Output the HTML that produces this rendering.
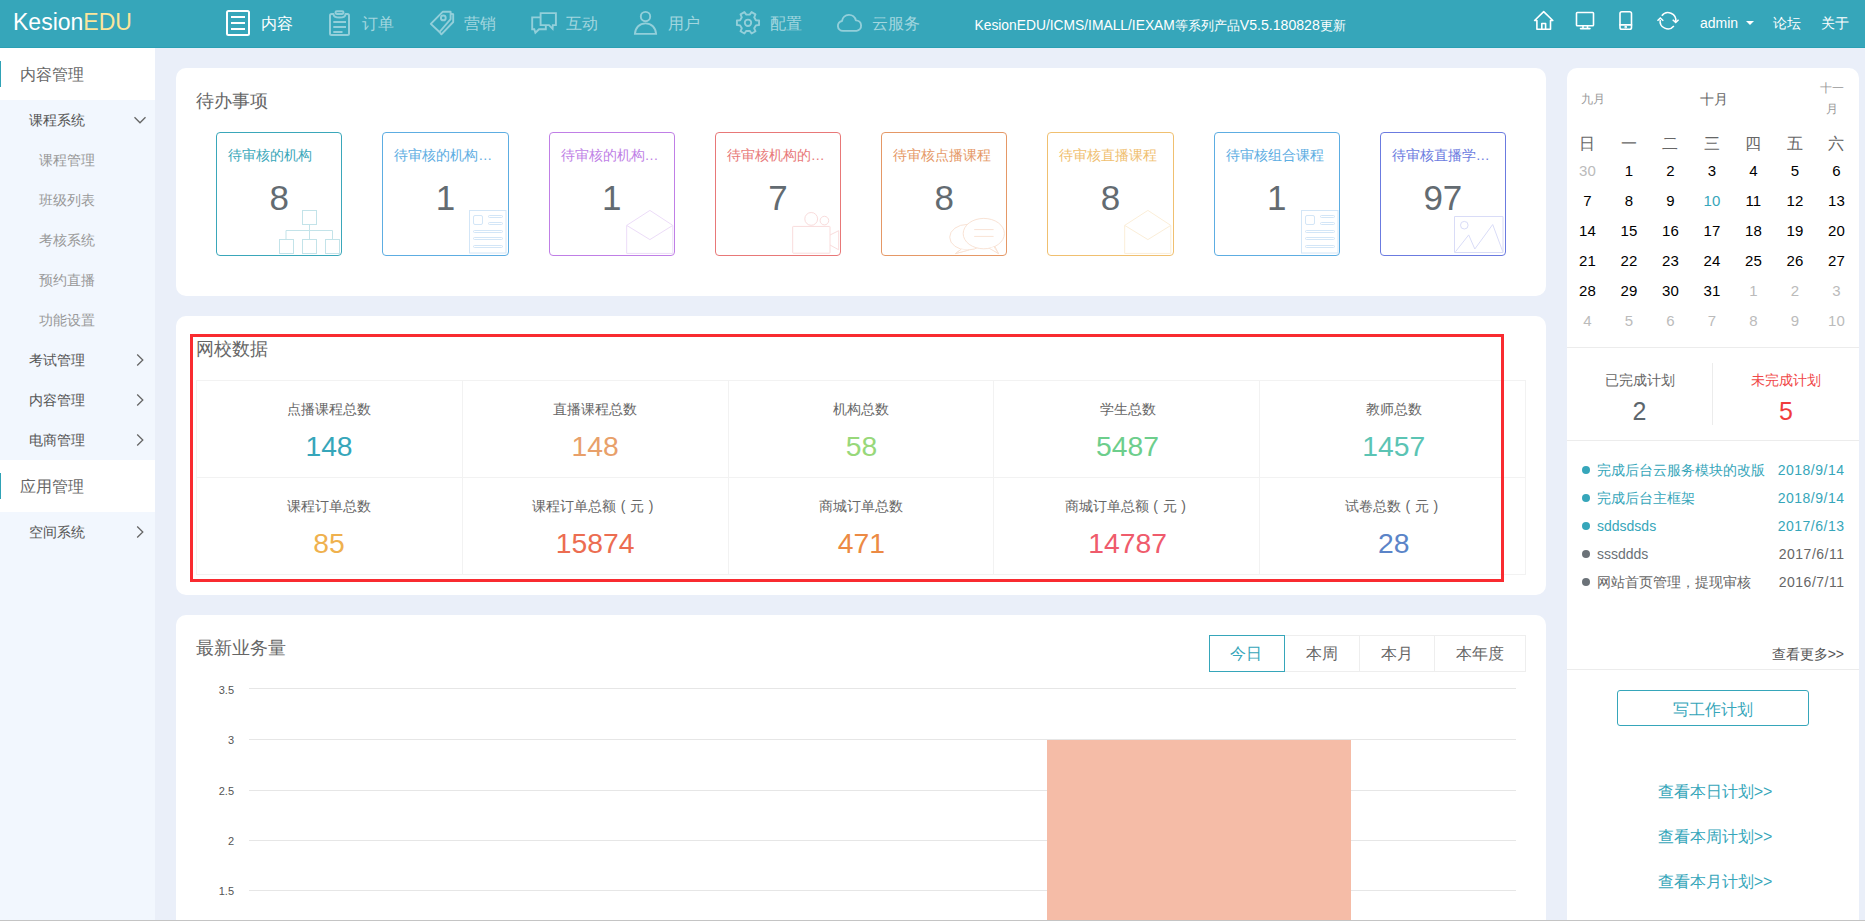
<!DOCTYPE html>
<html lang="zh">
<head>
<meta charset="utf-8">
<title>KesionEDU</title>
<style>
*{margin:0;padding:0;box-sizing:border-box;}
html,body{width:1865px;height:922px;overflow:hidden;}
body{font-family:"Liberation Sans",sans-serif;background:#eaeff9;position:relative;color:#666;font-size:14px;}
.abs{position:absolute;}
#hdr{position:absolute;left:0;top:0;width:1865px;height:48px;background:#36a6ba;border-bottom:1px solid #2ba0b4;}
#logo{position:absolute;left:13px;top:9.200px;font-size:23px;line-height:26px;color:#fff;white-space:nowrap;}
#logo b{font-weight:normal;color:#fbe59b;}
.nav{position:absolute;top:0;height:48px;color:#93cfda;font-size:16px;line-height:48px;white-space:nowrap;}
.nav.on{color:#fff;}
.nav span{color:#a2d6df;}
.nav.on span{color:#fff;}
.nav svg{position:absolute;top:0;left:0;}
.la{font-size:14px;letter-spacing:0.1px;}
.hr{position:absolute;top:0;height:48px;line-height:46px;color:#fff;font-size:14px;white-space:nowrap;}
#side{position:absolute;left:0;top:48px;width:155px;height:874px;background:#f2f7fe;}
.sh{position:absolute;left:0;width:155px;height:52px;background:#fff;font-size:16px;line-height:54px;padding-left:19.500px;color:#666;}
.sh:before{content:"";position:absolute;left:0;top:13px;width:1px;height:26px;background:#2fa2b6;}
.s1{position:absolute;left:29px;height:40px;line-height:40px;font-size:14px;color:#555;white-space:nowrap;}
.s2{position:absolute;left:39px;height:40px;line-height:40px;font-size:14px;color:#999;white-space:nowrap;}
.chev{position:absolute;left:133px;width:14px;height:14px;}
.card{position:absolute;background:#fff;border-radius:10px;}
.tc{position:absolute;top:64px;width:126.25px;height:124px;border:1px solid;border-radius:4px;overflow:hidden;background:#fff;}
.tt{position:absolute;left:11px;top:12px;font-size:14px;line-height:20px;white-space:nowrap;}
.tn{position:absolute;left:0;width:100%;top:45.400px;text-align:center;font-size:35px;line-height:40px;color:#636b71;}
.ic{position:absolute;left:-1px;top:-1px;}
.dc{position:absolute;width:266px;height:97px;text-align:center;}
.dl{position:absolute;left:0;width:100%;top:19px;font-size:14px;line-height:20px;color:#666;white-space:nowrap;}
.dn{position:absolute;left:0;width:100%;top:48px;font-size:28.300px;line-height:36px;white-space:nowrap;}
.cal{width:40px;height:24px;line-height:24px;text-align:center;}
.pr{display:inline-block;width:14px;text-align:center;font-style:normal;}
.ttl{position:absolute;font-size:18px;line-height:24px;color:#666;white-space:nowrap;}
</style>
</head>
<body>
<div id="hdr">
<div id="logo">Kesion<b>EDU</b></div>

<div class="nav on" style="left:226px;"><svg width="24" height="48" viewBox="0 0 24 48"><rect x="1" y="11" width="22" height="24" rx="1.5" fill="none" stroke="#fff" stroke-width="2"/><path d="M5 17H19M5 23H19M5 29H19" stroke="#fff" stroke-width="2"/></svg><span style="margin-left:35px;">内容</span></div>
<div class="nav" style="left:328px;"><svg width="24" height="48" viewBox="0 0 24 48"><g fill="none" stroke="#93cfda" stroke-width="2" stroke-linejoin="round"><path d="M5.5 14H3.5a1.5 1.5 0 0 0-1.5 1.5V33.4a1.5 1.5 0 0 0 1.5 1.5H19.5a1.5 1.5 0 0 0 1.5-1.5V15.5a1.5 1.5 0 0 0-1.5-1.5H17.5C17.5 16.5 15.5 17.6 11.5 17.6S5.5 16.5 5.5 14Z"/><rect x="7.5" y="11.3" width="8" height="2.6" rx="1.3"/><path d="M5.3 21.900H18M5.3 27H18M5.3 31.900H14.5"/></g></svg><span style="margin-left:34px;">订单</span></div>
<div class="nav" style="left:429px;"><svg width="26" height="48" viewBox="0 0 26 48"><g fill="none" stroke="#93cfda" stroke-width="1.9" stroke-linejoin="round"><path d="M13.9 11.7L21.6 11.7L21.6 19.2L10.5 32L1.8 23.9Z"/><path d="M21.6 13.8L24.2 14.2L24.2 22L12.4 34.3L10.5 32"/><circle cx="14.3" cy="17.9" r="2.4"/></g></svg><span style="margin-left:35px;">营销</span></div>
<div class="nav" style="left:530px;"><svg width="28" height="48" viewBox="0 0 28 48"><g fill="none" stroke="#93cfda" stroke-width="1.9" stroke-linejoin="miter"><path d="M10.6 17.4H2.2V29.3H4.3L5.4 32.8L9 29.3H15.8V25.1"/><path d="M10.6 13.1H25.9V25.1H22.8L22.6 28.8L19 25.1H10.6Z"/></g></svg><span style="margin-left:36px;">互动</span></div>
<div class="nav" style="left:633px;"><svg width="26" height="48" viewBox="0 0 26 48"><g fill="none" stroke="#93cfda" stroke-width="1.9"><circle cx="12.5" cy="16.6" r="4.7"/><path d="M1.9 33.9C2.3 27.5 6.6 23.4 12.5 23.4S22.7 27.5 23.1 33.9Z" stroke-linejoin="miter"/></g></svg><span style="margin-left:35px;">用户</span></div>
<div class="nav" style="left:735px;"><svg width="26" height="48" viewBox="0 0 26 48"><g fill="none" stroke="#93cfda" stroke-width="1.9" stroke-linejoin="round"><circle cx="13" cy="22.8" r="3.2"/><path d="M20.88 20.19L24.07 20.56L24.07 25.04L20.88 25.41L19.20 28.32L20.48 31.27L16.59 33.51L14.68 30.93L11.32 30.93L9.41 33.51L5.52 31.27L6.80 28.32L5.12 25.41L1.93 25.04L1.93 20.56L5.12 20.19L6.80 17.28L5.52 14.33L9.41 12.09L11.32 14.67L14.68 14.67L16.59 12.09L20.48 14.33L19.20 17.28Z"/></g></svg><span style="margin-left:35px;">配置</span></div>
<div class="nav" style="left:836px;"><svg width="28" height="48" viewBox="0 0 28 48"><path d="M6.9 30.9A5 5 0 0 1 6.06 20.97A7 7 0 0 1 19.83 20.36A5.3 5.3 0 0 1 20.6 30.9Z" fill="none" stroke="#93cfda" stroke-width="1.9" stroke-linejoin="round"/></svg><span style="margin-left:36px;">云服务</span></div>
<div class="hr" id="ver" style="left:974.500px;font-size:13px;line-height:50px;"><span style="font-size:13.820px;">KesionEDU/ICMS/IMALL/IEXAM</span>等系列产品<span style="font-size:14.100px;">V5.5.180828</span>更新</div>
<svg class="abs" style="left:1530px;top:0;" width="160" height="48" viewBox="1530 0 160 48"><g fill="none" stroke="#fff" stroke-width="1.600" stroke-linejoin="round" stroke-linecap="round">
<path d="M1534.600 20.500L1543.700 11.600L1552.800 20.500H1550.500V29.200H1536.900V20.500Z"/><path d="M1541.800 29.200V23.500H1545.600V29.200"/>
<rect x="1576.500" y="12.500" width="17" height="13.200" rx="0.800"/><path d="M1580.500 28.600H1590M1583 26V28.500M1587.500 26V28.500"/>
<rect x="1620" y="11.800" width="11.500" height="17.500" rx="1.800"/><path d="M1620 24.900H1631.500"/><circle cx="1625.700" cy="27.100" r="0.500"/>
<path d="M1661.800 15.700A7.800 7.800 0 0 1 1675.700 21.600M1660.200 19.800A7.800 7.800 0 0 0 1673.900 26" stroke-width="1.500" stroke-linecap="butt"/><path d="M1672.700 19.800L1675.700 22.400L1678.600 19.800M1657.500 20.700L1660.300 18L1663.300 20.700" stroke-width="1.500" stroke-linejoin="miter" stroke-linecap="butt"/>
</g></svg>
<div class="hr" style="left:1700px;">admin</div>
<div class="abs" style="left:1745.500px;top:21.300px;width:0;height:0;border-left:4px solid transparent;border-right:4px solid transparent;border-top:4.300px solid #fff;"></div>
<div class="hr" style="left:1773px;">论坛</div>
<div class="hr" style="left:1821px;">关于</div>

</div>
<div id="side">

<div class="sh" style="top:0;">内容管理</div>
<div class="s1" style="top:52px;">课程系统</div>
<svg class="chev" style="top:65px;" viewBox="0 0 14 14"><path d="M1.5 4.200 L7 9.800 L12.500 4.200" fill="none" stroke="#666" stroke-width="1.3"/></svg>
<div class="s2" style="top:92px;">课程管理</div>
<div class="s2" style="top:132px;">班级列表</div>
<div class="s2" style="top:172px;">考核系统</div>
<div class="s2" style="top:212px;">预约直播</div>
<div class="s2" style="top:252px;">功能设置</div>
<div class="s1" style="top:292px;">考试管理</div>
<svg class="chev" style="top:305px;" viewBox="0 0 14 14"><path d="M4.2 1.5 L9.8 7 L4.2 12.5" fill="none" stroke="#666" stroke-width="1.3"/></svg>
<div class="s1" style="top:332px;">内容管理</div>
<svg class="chev" style="top:345px;" viewBox="0 0 14 14"><path d="M4.2 1.5 L9.8 7 L4.2 12.5" fill="none" stroke="#666" stroke-width="1.3"/></svg>
<div class="s1" style="top:372px;">电商管理</div>
<svg class="chev" style="top:385px;" viewBox="0 0 14 14"><path d="M4.2 1.5 L9.8 7 L4.2 12.5" fill="none" stroke="#666" stroke-width="1.3"/></svg>
<div class="sh" style="top:412px;">应用管理</div>
<div class="s1" style="top:464px;">空间系统</div>
<svg class="chev" style="top:477px;" viewBox="0 0 14 14"><path d="M4.2 1.5 L9.8 7 L4.2 12.5" fill="none" stroke="#666" stroke-width="1.3"/></svg>

</div>
<div class="card" id="c1" style="left:176px;top:68px;width:1370px;height:228px;">
<div class="ttl" style="left:20px;top:21px;">待办事项</div>
<div class="tc" style="left:40.00px;border-color:#3aa7ba;"><div class="tt" style="color:#3aa7ba;">待审核的机构</div><div class="tn">8</div><svg class="ic" width="126" height="124" viewBox="0 0 126 124"><g fill="none" stroke="#c3e3e9" stroke-width="1"><rect x="86.5" y="78.500" width="14" height="14"/><rect x="63.500" y="107.500" width="14" height="14"/><rect x="86.500" y="107.500" width="14" height="14"/><rect x="109.500" y="107.500" width="14" height="14"/><path d="M93.500 92.500V107.500M70 107.500V98.500H116.500V107.500"/></g></svg></div>
<div class="tc" style="left:206.25px;border-color:#5dade2;"><div class="tt" style="color:#5dade2;">待审核的机构…</div><div class="tn">1</div><svg class="ic" width="126" height="124" viewBox="0 0 126 124"><g fill="none" stroke="#d3e6f7" stroke-width="1"><rect x="87.500" y="78.500" width="36.500" height="42.500"/><rect x="91.500" y="83.500" width="9" height="9" rx="1.500"/><rect x="106.500" y="83.500" width="14" height="2" rx="1"/><rect x="106.500" y="90.500" width="14" height="2" rx="1"/><rect x="91.500" y="98.500" width="29" height="2" rx="1"/><rect x="91.500" y="105.500" width="29" height="2" rx="1"/><rect x="91.500" y="113.500" width="29" height="2" rx="1"/></g></svg></div>
<div class="tc" style="left:372.50px;border-color:#c07fe6;"><div class="tt" style="color:#c07fe6;">待审核的机构…</div><div class="tn">1</div><svg class="ic" width="126" height="124" viewBox="0 0 126 124"><g fill="none" stroke="#ecdcf8" stroke-width="1" stroke-linejoin="round"><path d="M77.700 93.400L100.900 78.400L123.800 93.400V121.400H77.700Z"/><path d="M77.700 93.400L100.900 107.600L123.800 93.400"/></g></svg></div>
<div class="tc" style="left:538.75px;border-color:#e87878;"><div class="tt" style="color:#e87878;">待审核机构的…</div><div class="tn">7</div><svg class="ic" width="126" height="124" viewBox="0 0 126 124"><g fill="none" stroke="#f9dcdc" stroke-width="1" stroke-linejoin="round"><rect x="77.700" y="94.400" width="37.300" height="26.800" rx="0.500"/><circle cx="96.200" cy="86.900" r="6.400"/><circle cx="109.400" cy="88.600" r="4.300"/><path d="M115 103L123.700 98.700V117.800L115 113"/></g></svg></div>
<div class="tc" style="left:705.00px;border-color:#e59866;"><div class="tt" style="color:#e59866;">待审核点播课程</div><div class="tn">8</div><svg class="ic" width="126" height="124" viewBox="0 0 126 124"><g fill="none" stroke="#f9e3d5" stroke-width="1" stroke-linejoin="round"><path d="M80 117.300L74.500 121.500L86 118.500" /><ellipse cx="86.500" cy="105.200" rx="17.800" ry="12.800" fill="#fff"/><path d="M80.300 117.200L74.500 121.600L88 117.950" fill="#fff"/><path d="M109 115.500L117.500 121.600L113.500 113.600" fill="#fff"/><ellipse cx="102.800" cy="101.600" rx="20.600" ry="15.200" fill="#fff"/><path d="M108.600 116.200L117.500 121.600L112.600 115" fill="#fff" stroke="none"/><path d="M108.200 116.300L117.500 121.600L113.100 114.800"/><path d="M93.200 97.600H112.600M93.200 104.400H112.600"/></g></svg></div>
<div class="tc" style="left:871.25px;border-color:#f0c070;"><div class="tt" style="color:#f0c070;">待审核直播课程</div><div class="tn">8</div><svg class="ic" width="126" height="124" viewBox="0 0 126 124"><g fill="none" stroke="#fbeed8" stroke-width="1" stroke-linejoin="round"><path d="M77.700 93.400L100.900 78.400L123.800 93.400V121.400H77.700Z"/><path d="M77.700 93.400L100.900 107.600L123.800 93.400"/></g></svg></div>
<div class="tc" style="left:1037.50px;border-color:#5dade2;"><div class="tt" style="color:#5dade2;">待审核组合课程</div><div class="tn">1</div><svg class="ic" width="126" height="124" viewBox="0 0 126 124"><g fill="none" stroke="#d3e6f7" stroke-width="1"><rect x="87.500" y="78.500" width="36.500" height="42.500"/><rect x="91.500" y="83.500" width="9" height="9" rx="1.500"/><rect x="106.500" y="83.500" width="14" height="2" rx="1"/><rect x="106.500" y="90.500" width="14" height="2" rx="1"/><rect x="91.500" y="98.500" width="29" height="2" rx="1"/><rect x="91.500" y="105.500" width="29" height="2" rx="1"/><rect x="91.500" y="113.500" width="29" height="2" rx="1"/></g></svg></div>
<div class="tc" style="left:1203.75px;border-color:#6b7be0;"><div class="tt" style="color:#6b7be0;">待审核直播学…</div><div class="tn">97</div><svg class="ic" width="126" height="124" viewBox="0 0 126 124"><g fill="none" stroke="#d9dcf7" stroke-width="1" stroke-linejoin="round"><rect x="74.500" y="84.500" width="48.500" height="36"/><circle cx="84.300" cy="93.200" r="3.800"/><path d="M75.500 119.700L88.700 102.900L94.800 117L112.700 92.500L122.800 119.700"/></g></svg></div>

</div>
<div class="card" id="c2" style="left:176px;top:316px;width:1370px;height:279px;">
<div class="ttl" style="left:20px;top:21px;">网校数据</div>
<div class="abs" style="left:20px;top:64px;width:1330px;height:195px;border:1px solid #f2f2f2;"></div>
<div class="abs" style="left:20px;top:161px;width:1330px;height:1px;background:#f2f2f2;"></div>
<div class="abs" style="left:286px;top:64px;width:1px;height:195px;background:#f2f2f2;"></div>
<div class="abs" style="left:552px;top:64px;width:1px;height:195px;background:#f2f2f2;"></div>
<div class="abs" style="left:817px;top:64px;width:1px;height:195px;background:#f2f2f2;"></div>
<div class="abs" style="left:1083px;top:64px;width:1px;height:195px;background:#f2f2f2;"></div>
<div class="dc" style="left:20.0px;top:64px;"><div class="dl">点播课程总数</div><div class="dn" style="color:#36a6ba;">148</div></div>
<div class="dc" style="left:286.2px;top:64px;"><div class="dl">直播课程总数</div><div class="dn" style="color:#e8a06a;">148</div></div>
<div class="dc" style="left:552.4px;top:64px;"><div class="dl">机构总数</div><div class="dn" style="color:#98d87a;">58</div></div>
<div class="dc" style="left:818.6px;top:64px;"><div class="dl">学生总数</div><div class="dn" style="color:#6dce8c;">5487</div></div>
<div class="dc" style="left:1084.8px;top:64px;"><div class="dl">教师总数</div><div class="dn" style="color:#5bc4b4;">1457</div></div>
<div class="dc" style="left:20.0px;top:161px;"><div class="dl">课程订单总数</div><div class="dn" style="color:#efb14e;">85</div></div>
<div class="dc" style="left:286.2px;top:161px;"><div class="dl">课程订单总额<i class="pr">(</i>元<i class="pr">)</i></div><div class="dn" style="color:#ec6d51;">15874</div></div>
<div class="dc" style="left:552.4px;top:161px;"><div class="dl">商城订单总数</div><div class="dn" style="color:#ec8a44;">471</div></div>
<div class="dc" style="left:818.6px;top:161px;"><div class="dl">商城订单总额<i class="pr">(</i>元<i class="pr">)</i></div><div class="dn" style="color:#ef5b6c;">14787</div></div>
<div class="dc" style="left:1084.8px;top:161px;"><div class="dl">试卷总数<i class="pr">(</i>元<i class="pr">)</i></div><div class="dn" style="color:#5b84c8;">28</div></div>
<div class="abs" style="left:14px;top:18px;width:1314px;height:248px;border:3px solid #f92b30;"></div>

</div>
<div class="card" id="c3" style="left:176px;top:615px;width:1370px;height:320px;">
<div class="ttl" style="left:20px;top:21px;">最新业务量</div>
<div class="abs" style="left:1033px;top:20px;width:317px;height:37px;border:1px solid #eee;"></div>
<div class="abs" style="left:1183px;top:20px;width:1px;height:37px;background:#eee;"></div>
<div class="abs" style="left:1258px;top:20px;width:1px;height:37px;background:#eee;"></div>
<div class="abs" style="left:1033px;top:20px;width:76px;height:37px;border:1px solid #36a6ba;"></div>
<div class="abs" style="left:1032px;top:20px;width:76px;height:37px;line-height:38px;text-align:center;font-size:16px;color:#36a6ba;">今日</div>
<div class="abs" style="left:1108px;top:20px;width:75px;height:37px;line-height:38px;text-align:center;font-size:16px;color:#666;">本周</div>
<div class="abs" style="left:1183px;top:20px;width:75px;height:37px;line-height:38px;text-align:center;font-size:16px;color:#666;">本月</div>
<div class="abs" style="left:1258px;top:20px;width:91px;height:37px;line-height:38px;text-align:center;font-size:16px;color:#666;">本年度</div>
<div class="abs" style="left:73px;top:73px;width:1267px;height:1px;background:#e6e6e6;"></div>
<div class="abs" style="left:20px;top:67px;width:38px;height:16px;line-height:16px;text-align:right;font-size:11px;color:#555;">3.5</div>
<div class="abs" style="left:73px;top:124px;width:1267px;height:1px;background:#e6e6e6;"></div>
<div class="abs" style="left:20px;top:117px;width:38px;height:16px;line-height:16px;text-align:right;font-size:11px;color:#555;">3</div>
<div class="abs" style="left:73px;top:175px;width:1267px;height:1px;background:#e6e6e6;"></div>
<div class="abs" style="left:20px;top:168px;width:38px;height:16px;line-height:16px;text-align:right;font-size:11px;color:#555;">2.5</div>
<div class="abs" style="left:73px;top:225px;width:1267px;height:1px;background:#e6e6e6;"></div>
<div class="abs" style="left:20px;top:218px;width:38px;height:16px;line-height:16px;text-align:right;font-size:11px;color:#555;">2</div>
<div class="abs" style="left:73px;top:275px;width:1267px;height:1px;background:#e6e6e6;"></div>
<div class="abs" style="left:20px;top:268px;width:38px;height:16px;line-height:16px;text-align:right;font-size:11px;color:#555;">1.5</div>
<div class="abs" style="left:871px;top:125px;width:304px;height:200px;background:#f5bca7;"></div>

</div>
<div class="card" id="rp" style="left:1567px;top:68px;width:292px;height:870px;">
<div class="abs" style="left:14px;top:23px;font-size:12px;line-height:16px;color:#999;">九月</div>
<div class="abs" style="left:132.500px;top:22px;width:28px;font-size:14px;line-height:18px;color:#666;white-space:nowrap;">十月</div>
<div class="abs" style="left:252px;top:10px;width:26px;font-size:12px;line-height:20.500px;color:#999;text-align:center;">十一<br>月</div>
<div class="abs cal" style="left:0.4px;top:64px;font-size:16px;color:#666;">日</div>
<div class="abs cal" style="left:41.9px;top:64px;font-size:16px;color:#666;">一</div>
<div class="abs cal" style="left:83.4px;top:64px;font-size:16px;color:#666;">二</div>
<div class="abs cal" style="left:124.9px;top:64px;font-size:16px;color:#666;">三</div>
<div class="abs cal" style="left:166.4px;top:64px;font-size:16px;color:#666;">四</div>
<div class="abs cal" style="left:207.9px;top:64px;font-size:16px;color:#666;">五</div>
<div class="abs cal" style="left:249.4px;top:64px;font-size:16px;color:#666;">六</div>
<div class="abs cal" style="left:0.4px;top:91px;font-size:15px;color:#bbb;">30</div>
<div class="abs cal" style="left:41.9px;top:91px;font-size:15px;color:#000;">1</div>
<div class="abs cal" style="left:83.4px;top:91px;font-size:15px;color:#000;">2</div>
<div class="abs cal" style="left:124.9px;top:91px;font-size:15px;color:#000;">3</div>
<div class="abs cal" style="left:166.4px;top:91px;font-size:15px;color:#000;">4</div>
<div class="abs cal" style="left:207.9px;top:91px;font-size:15px;color:#000;">5</div>
<div class="abs cal" style="left:249.4px;top:91px;font-size:15px;color:#000;">6</div>
<div class="abs cal" style="left:0.4px;top:121px;font-size:15px;color:#000;">7</div>
<div class="abs cal" style="left:41.9px;top:121px;font-size:15px;color:#000;">8</div>
<div class="abs cal" style="left:83.4px;top:121px;font-size:15px;color:#000;">9</div>
<div class="abs cal" style="left:124.9px;top:121px;font-size:15px;color:#36a6ba;">10</div>
<div class="abs cal" style="left:166.4px;top:121px;font-size:15px;color:#000;">11</div>
<div class="abs cal" style="left:207.9px;top:121px;font-size:15px;color:#000;">12</div>
<div class="abs cal" style="left:249.4px;top:121px;font-size:15px;color:#000;">13</div>
<div class="abs cal" style="left:0.4px;top:151px;font-size:15px;color:#000;">14</div>
<div class="abs cal" style="left:41.9px;top:151px;font-size:15px;color:#000;">15</div>
<div class="abs cal" style="left:83.4px;top:151px;font-size:15px;color:#000;">16</div>
<div class="abs cal" style="left:124.9px;top:151px;font-size:15px;color:#000;">17</div>
<div class="abs cal" style="left:166.4px;top:151px;font-size:15px;color:#000;">18</div>
<div class="abs cal" style="left:207.9px;top:151px;font-size:15px;color:#000;">19</div>
<div class="abs cal" style="left:249.4px;top:151px;font-size:15px;color:#000;">20</div>
<div class="abs cal" style="left:0.4px;top:181px;font-size:15px;color:#000;">21</div>
<div class="abs cal" style="left:41.9px;top:181px;font-size:15px;color:#000;">22</div>
<div class="abs cal" style="left:83.4px;top:181px;font-size:15px;color:#000;">23</div>
<div class="abs cal" style="left:124.9px;top:181px;font-size:15px;color:#000;">24</div>
<div class="abs cal" style="left:166.4px;top:181px;font-size:15px;color:#000;">25</div>
<div class="abs cal" style="left:207.9px;top:181px;font-size:15px;color:#000;">26</div>
<div class="abs cal" style="left:249.4px;top:181px;font-size:15px;color:#000;">27</div>
<div class="abs cal" style="left:0.4px;top:211px;font-size:15px;color:#000;">28</div>
<div class="abs cal" style="left:41.9px;top:211px;font-size:15px;color:#000;">29</div>
<div class="abs cal" style="left:83.4px;top:211px;font-size:15px;color:#000;">30</div>
<div class="abs cal" style="left:124.9px;top:211px;font-size:15px;color:#000;">31</div>
<div class="abs cal" style="left:166.4px;top:211px;font-size:15px;color:#bbb;">1</div>
<div class="abs cal" style="left:207.9px;top:211px;font-size:15px;color:#bbb;">2</div>
<div class="abs cal" style="left:249.4px;top:211px;font-size:15px;color:#bbb;">3</div>
<div class="abs cal" style="left:0.4px;top:241px;font-size:15px;color:#bbb;">4</div>
<div class="abs cal" style="left:41.9px;top:241px;font-size:15px;color:#bbb;">5</div>
<div class="abs cal" style="left:83.4px;top:241px;font-size:15px;color:#bbb;">6</div>
<div class="abs cal" style="left:124.9px;top:241px;font-size:15px;color:#bbb;">7</div>
<div class="abs cal" style="left:166.4px;top:241px;font-size:15px;color:#bbb;">8</div>
<div class="abs cal" style="left:207.9px;top:241px;font-size:15px;color:#bbb;">9</div>
<div class="abs cal" style="left:249.4px;top:241px;font-size:15px;color:#bbb;">10</div>
<div class="abs" style="left:0;top:279px;width:292px;height:1px;background:#ececec;"></div>
<div class="abs" style="left:0;top:372px;width:292px;height:1px;background:#ececec;"></div>
<div class="abs" style="left:145px;top:295px;width:1px;height:62px;background:#ececec;"></div>
<div class="abs" style="left:0;top:302px;width:145px;text-align:center;font-size:14px;line-height:20px;color:#666;">已完成计划</div>
<div class="abs" style="left:0;top:327px;width:145px;text-align:center;font-size:25px;line-height:32px;color:#5d666d;">2</div>
<div class="abs" style="left:146px;top:302px;width:146px;text-align:center;font-size:14px;line-height:20px;color:#f04848;">未完成计划</div>
<div class="abs" style="left:146px;top:327px;width:146px;text-align:center;font-size:25px;line-height:32px;color:#f03c3c;">5</div>
<div class="abs" style="left:14.500px;top:398px;width:8px;height:8px;border-radius:4px;background:#36a6ba;"></div><div class="abs" style="left:30px;top:392px;font-size:14px;line-height:20px;color:#36a6ba;white-space:nowrap;">完成后台云服务模块的改版</div><div class="abs" style="right:14.500px;letter-spacing:0.500px;top:392px;font-size:14px;line-height:20px;color:#36a6ba;white-space:nowrap;">2018/9/14</div>
<div class="abs" style="left:14.500px;top:426px;width:8px;height:8px;border-radius:4px;background:#36a6ba;"></div><div class="abs" style="left:30px;top:420px;font-size:14px;line-height:20px;color:#36a6ba;white-space:nowrap;">完成后台主框架</div><div class="abs" style="right:14.500px;letter-spacing:0.500px;top:420px;font-size:14px;line-height:20px;color:#36a6ba;white-space:nowrap;">2018/9/14</div>
<div class="abs" style="left:14.500px;top:454px;width:8px;height:8px;border-radius:4px;background:#36a6ba;"></div><div class="abs" style="left:30px;top:448px;font-size:14px;line-height:20px;color:#36a6ba;white-space:nowrap;">sddsdsds</div><div class="abs" style="right:14.500px;letter-spacing:0.500px;top:448px;font-size:14px;line-height:20px;color:#36a6ba;white-space:nowrap;">2017/6/13</div>
<div class="abs" style="left:14.500px;top:482px;width:8px;height:8px;border-radius:4px;background:#6b7278;"></div><div class="abs" style="left:30px;top:476px;font-size:14px;line-height:20px;color:#6a7177;white-space:nowrap;">sssddds</div><div class="abs" style="right:14.500px;letter-spacing:0.500px;top:476px;font-size:14px;line-height:20px;color:#666;white-space:nowrap;">2017/6/11</div>
<div class="abs" style="left:14.500px;top:510px;width:8px;height:8px;border-radius:4px;background:#6b7278;"></div><div class="abs" style="left:30px;top:504px;font-size:14px;line-height:20px;color:#666;white-space:nowrap;">网站首页管理，提现审核</div><div class="abs" style="right:14.500px;letter-spacing:0.500px;top:504px;font-size:14px;line-height:20px;color:#666;white-space:nowrap;">2016/7/11</div>
<div class="abs" style="right:15px;top:576px;font-size:14px;line-height:20px;color:#555;white-space:nowrap;">查看更多&gt;&gt;</div>
<div class="abs" style="left:0;top:601px;width:292px;height:1px;background:#ececec;"></div>
<div class="abs" style="left:50px;top:622px;width:192px;height:36px;border:1px solid #36a6ba;border-radius:3px;text-align:center;font-size:16px;line-height:37px;color:#36a6ba;">写工作计划</div>
<div class="abs" style="left:0;top:713px;width:296px;text-align:center;font-size:16px;line-height:22px;color:#36a6ba;">查看本日计划&gt;&gt;</div>
<div class="abs" style="left:0;top:758px;width:296px;text-align:center;font-size:16px;line-height:22px;color:#36a6ba;">查看本周计划&gt;&gt;</div>
<div class="abs" style="left:0;top:803px;width:296px;text-align:center;font-size:16px;line-height:22px;color:#36a6ba;">查看本月计划&gt;&gt;</div>

</div>
<div class="abs" style="left:0;top:920px;width:1865px;height:1px;background:#c4c4c4;"></div>
<div class="abs" style="left:0;top:921px;width:1865px;height:1px;background:#fff;"></div>
</body>
</html>
